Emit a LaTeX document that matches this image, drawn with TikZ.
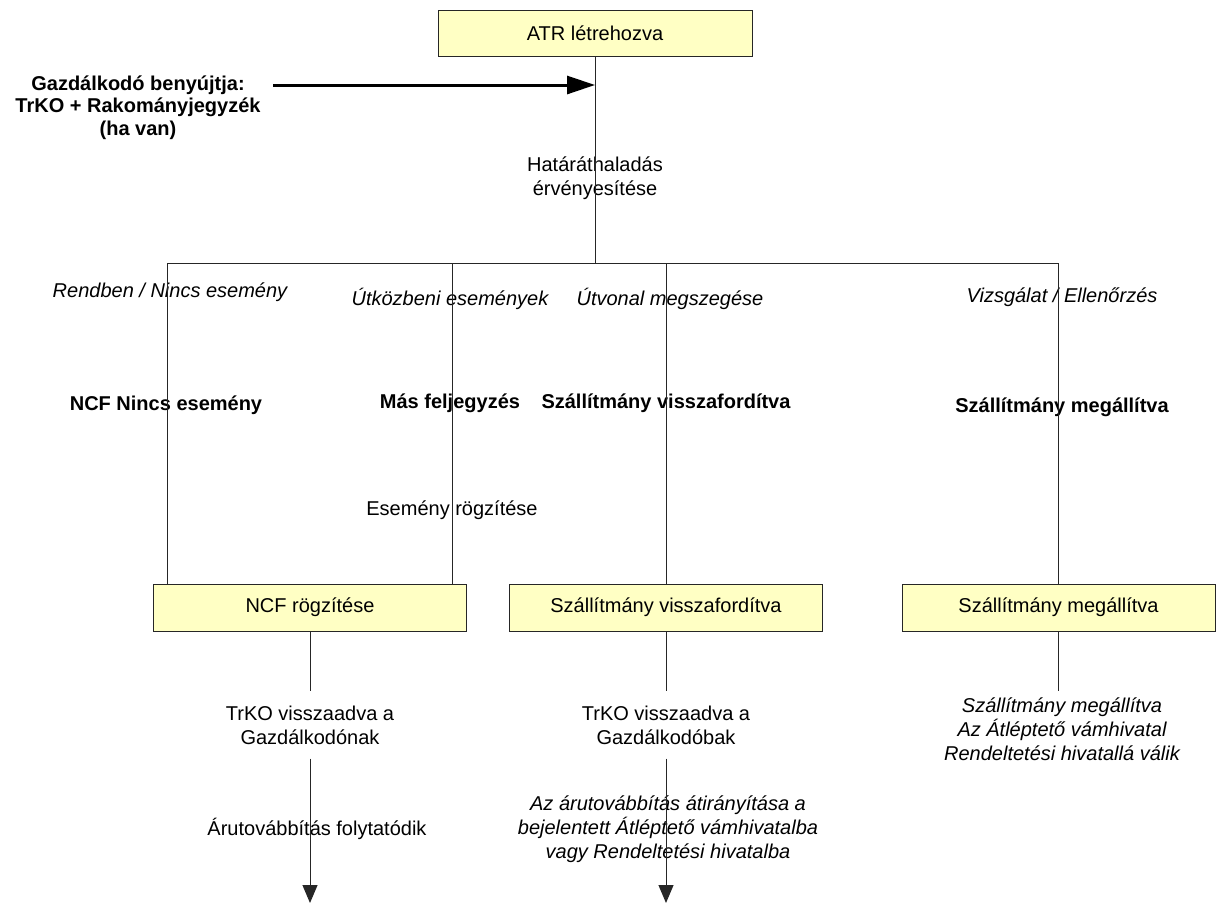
\documentclass[tikz,border=0pt]{standalone}
\usepackage{fontspec}
\setmainfont{Liberation Sans}
\usepackage{xcolor}
\usepackage{tikz}
\usetikzlibrary{arrows.meta, positioning}
\definecolor{boxyellow}{RGB}{255,255,196}
\tikzset{
  box/.style={rectangle, draw=black!85, fill=boxyellow, line width=1pt, minimum height=47pt, minimum width=313pt, inner sep=0pt, align=center},
  lbl/.style={align=center, inner sep=6pt},
  event/.style={lbl, font=\fontsize{20}{24}\selectfont\itshape},
  result/.style={lbl, font=\fontsize{20}{24}\selectfont\bfseries},
  line/.style={line width=1pt, black!85},
  bigarrow/.style={-{Triangle[length=28pt, width=18pt]}, line width=3pt},
  downarrow/.style={line, -{Triangle[length=18pt, width=15pt]}},
}

\begin{document}
\begin{tikzpicture}[x=1pt, y=-1pt, font=\fontsize{20}{24}\selectfont]
    \useasboundingbox (0,0) rectangle (1216,903);
    % top
    \node[box, minimum width=314pt, minimum height=46pt] (atr) at (595,33) {ATR létrehozva};
    \node[result, font=\fontsize{20}{22.5}\selectfont\bfseries] (gazd) at (138,107.5) {Gazdálkodó benyújtja:\\TrKO + Rakományjegyzék\\(ha van)};
    \coordinate (in) at (273,85);
    \coordinate (join) at (595,85);
    \draw[bigarrow] (in) -- (join);
    \node[lbl] (hatar) at (595,178) {Határáthaladás\\érvényesítése};
    % branches
    \coordinate (split) at (595,263);
    \coordinate (b1) at (167,263);
    \coordinate (b2) at (452,263);
    \coordinate (b3) at (666,263);
    \coordinate (b4) at (1058,263);
    \node[event] (ok) at (170,292) {Rendben / Nincs esemény};
    \node[event] (route) at (450,299) {Útközbeni események};
    \node[event] (breach) at (670,299) {Útvonal megszegése};
    \node[event] (check) at (1062,297) {Vizsgálat / Ellenőrzés};
    \node[result] (noev) at (166,405) {NCF Nincs esemény};
    \node[result] (other) at (450,403) {Más feljegyzés};
    \node[result] (back) at (666,403) {Szállítmány visszafordítva};
    \node[result] (halt) at (1062,407) {Szállítmány megállítva};
    \node[lbl] (rec) at (452,510) {Esemény rögzítése};
    % boxes
    \node[box] (ncf) at (310,607.5) {NCF rögzítése};
    \node[box] (visz) at (666,607.5) {Szállítmány visszafordítva};
    \node[box] (megall) at (1058.5,607.5) {Szállítmány megállítva};
    % after the boxes
    \node[lbl, inner sep=14pt] (trko1) at (310,725) {TrKO visszaadva a\\Gazdálkodónak};
    \node[lbl, inner sep=14pt] (trko2) at (666,725) {TrKO visszaadva a\\Gazdálkodóbak};
    \node[event] (note) at (1062,729) {Szállítmány megállítva\\Az Átléptető vámhivatal\\Rendeltetési hivatallá válik};
    \node[lbl] (cont) at (317,829) {Árutovábbítás folytatódik};
    \node[event] (redir) at (668,829) {Az árutovábbítás átirányítása a\\bejelentett Átléptető vámhivatalba\\vagy Rendeltetési hivatalba};
    \coordinate (endL) at (310,903);
    \coordinate (endM) at (666,903);
    % connectors
    \draw[line] (atr) -- (split);
    \draw[line] (b1) -- (b4);
    \draw[line] (b1) -- (b1 |- ncf.north);
    \draw[line] (b2) -- (b2 |- ncf.north);
    \draw[line] (b3) -- (visz);
    \draw[line] (b4) -- (b4 |- megall.north);
    \draw[line] (ncf) -- (trko1);
    \draw[line] (visz) -- (trko2);
    \draw[line] (megall.south) -- (megall.south |- note.north);
    \draw[downarrow] (trko1) -- (endL);
    \draw[downarrow] (trko2) -- (endM);
  \end{tikzpicture}
\end{document}
